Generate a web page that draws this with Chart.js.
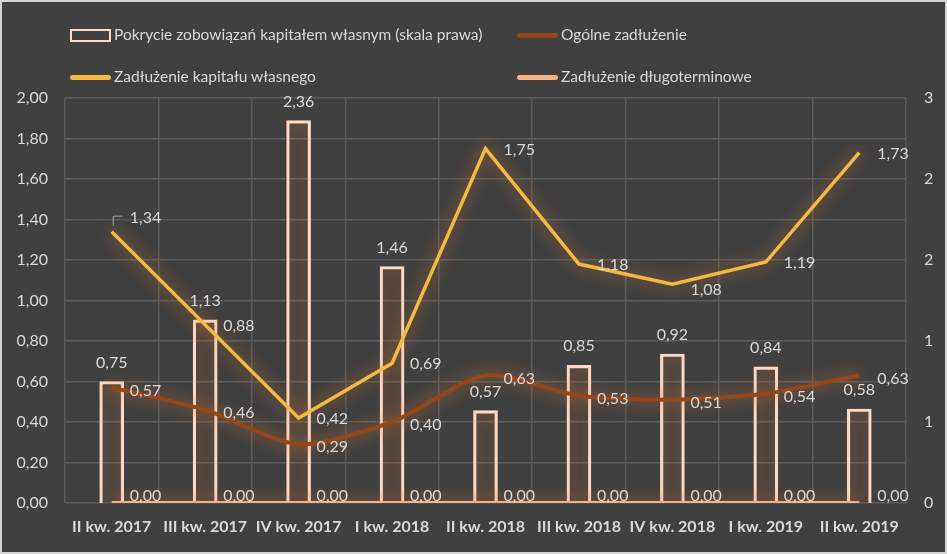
<!DOCTYPE html>
<html>
<head>
<meta charset="utf-8">
<script src="https://cdn.jsdelivr.net/npm/chart.js@4"></script>
<style>
  body { margin: 0; background: #404040; }
  #wrap { position: relative; width: 947px; height: 554px; background: #404040; box-shadow: inset 0 0 0 2px #d4d4d4; overflow: hidden; }
  #chart { position: absolute; left: 0; top: 0; }
  .leg { position: absolute; font-family: Lato, sans-serif; font-size: 15.5px; color: #d9d9d9; white-space: nowrap; line-height: 18px; }
  .sym { position: absolute; }
</style>
</head>
<body>
<div id="wrap">
  <canvas id="chart" width="947" height="554"></canvas>
  <div id="legend"></div>
</div>
<script>
var labels = ['II kw. 2017', 'III kw. 2017', 'IV kw. 2017', 'I kw. 2018', 'II kw. 2018', 'III kw. 2018', 'IV kw. 2018', 'I kw. 2019', 'II kw. 2019'];
var pokrycie = [0.75, 1.13, 2.36, 1.46, 0.57, 0.85, 0.92, 0.84, 0.58];
var ogolne = [0.57, 0.46, 0.29, 0.40, 0.63, 0.53, 0.51, 0.54, 0.63];
var kapitalu = [1.34, 0.88, 0.42, 0.69, 1.75, 1.18, 1.08, 1.19, 1.73];
var dlugo = [0, 0, 0, 0, 0, 0, 0, 0, 0];

var txt = '#d9d9d9';
var fmt = function(v) { return v.toFixed(2).replace('.', ','); };

// glow around every series, like the Excel effect
var glow = {
  id: 'glow',
  beforeDatasetDraw: function(chart) {
    var ctx = chart.ctx;
    ctx.save();
    ctx.shadowColor = 'rgba(237,125,49,0.75)';
    ctx.shadowBlur = 16;
  },
  afterDatasetDraw: function(chart) {
    chart.ctx.restore();
  }
};

// data labels: above the bars, right of the line points
var valueLabels = {
  id: 'valueLabels',
  afterDatasetsDraw: function(chart) {
    var ctx = chart.ctx;
    ctx.save();
    ctx.font = '16px Lato, sans-serif';
    ctx.fillStyle = txt;
    chart.data.datasets.forEach(function(ds, di) {
      var meta = chart.getDatasetMeta(di);
      meta.data.forEach(function(el, i) {
        var v = ds.data[i];
        if (ds.type === 'bar') {
          ctx.textAlign = 'center';
          ctx.textBaseline = 'middle';
          ctx.fillText(fmt(v), el.x, el.y - 19);
        } else {
          var dy = ds.labelDy;
          if (di === 2 && i === 0) {
            dy = -14;
            ctx.save();
            ctx.strokeStyle = '#a6a6a6';
            ctx.lineWidth = 1;
            ctx.beginPath();
            ctx.moveTo(el.x + 1.5, el.y - 6);
            ctx.lineTo(el.x + 1.5, el.y - 15.5);
            ctx.lineTo(el.x + 11, el.y - 15.5);
            ctx.stroke();
            ctx.restore();
          }
          if (di === 2 && i === 6) dy = 6;
          ctx.textAlign = 'left';
          ctx.textBaseline = 'middle';
          ctx.fillText(fmt(v), el.x + 18, el.y + dy);
        }
      });
    });
    ctx.restore();
  }
};

var chart = new Chart(document.getElementById('chart').getContext('2d'), {
  data: {
    labels: labels,
    datasets: [
      {
        type: 'bar',
        label: 'Pokrycie zobowiązań kapitałem własnym (skala prawa)',
        data: pokrycie,
        yAxisID: 'y1',
        backgroundColor: 'rgba(0,0,0,0)',
        borderColor: '#fbd9c6',
        borderWidth: 2.5,
        barThickness: 24,
        order: 10
      },
      {
        type: 'line',
        label: 'Ogólne zadłużenie',
        data: ogolne,
        yAxisID: 'y',
        borderColor: '#96471a',
        borderWidth: 4,
        tension: 0.25,
        pointRadius: 0,
        labelDy: 3,
        order: 2
      },
      {
        type: 'line',
        label: 'Zadłużenie kapitału własnego',
        data: kapitalu,
        yAxisID: 'y',
        borderColor: '#f3b940',
        borderWidth: 3.5,
        tension: 0,
        pointRadius: 0,
        labelDy: 1,
        order: 1
      },
      {
        type: 'line',
        label: 'Zadłużenie długoterminowe',
        data: dlugo,
        yAxisID: 'y',
        borderColor: '#f4b183',
        borderWidth: 4,
        tension: 0,
        pointRadius: 0,
        labelDy: -7,
        order: 0
      }
    ]
  },
  options: {
    responsive: false,
    animation: false,
    devicePixelRatio: 1,
    layout: { padding: { top: 98, left: 0, right: 0, bottom: 0 } },
    plugins: {
      legend: { display: false },
      tooltip: { enabled: false }
    },
    scales: {
      x: {
        offset: true,
        grid: { color: '#5c5c5c', lineWidth: 1.5, offset: true, drawTicks: false },
        border: { display: false },
        ticks: { color: txt, font: { family: 'Lato', size: 16, weight: 'bold' }, padding: 14, maxRotation: 0, autoSkip: false },
        afterFit: function(s) { s.height = 51; }
      },
      y: {
        position: 'left',
        min: 0,
        max: 2,
        grid: { color: '#5c5c5c', lineWidth: 1.5, drawTicks: false },
        border: { display: false },
        ticks: { stepSize: 0.2, color: txt, font: { family: 'Lato', size: 16 }, padding: 17, callback: function(v) { return fmt(v); } },
        afterFit: function(s) { s.width = 65; }
      },
      y1: {
        position: 'right',
        min: 0,
        max: 2.5,
        grid: { display: false, drawTicks: false },
        border: { display: false },
        ticks: { stepSize: 0.5, color: txt, font: { family: 'Lato', size: 16 }, padding: 18, callback: function(v) { return String(Math.round(v)); } },
        afterFit: function(s) { s.width = 41; }
      }
    }
  },
  plugins: [glow, valueLabels]
});

// legend in two columns, built from the chart datasets
var slots = [[70, 35], [517, 35], [70, 77], [517, 77]];
var html = '';
chart.data.datasets.forEach(function(ds, i) {
  var x = slots[i][0], y = slots[i][1];
  if (ds.type === 'bar') {
    html += '<div class="sym" style="left:' + x + 'px;top:' + (y - 6) + 'px;width:37px;height:9px;border:2px solid ' + ds.borderColor + ';"></div>';
  } else {
    html += '<div class="sym" style="left:' + x + 'px;top:' + (y - 2.5) + 'px;width:41px;height:5px;border-radius:3px;background:' + ds.borderColor + ';"></div>';
  }
  html += '<div class="leg" style="left:' + (x + 44) + 'px;top:' + (y - 10) + 'px;">' + ds.label + '</div>';
});
document.getElementById('legend').innerHTML = html;
</script>
</body>
</html>
